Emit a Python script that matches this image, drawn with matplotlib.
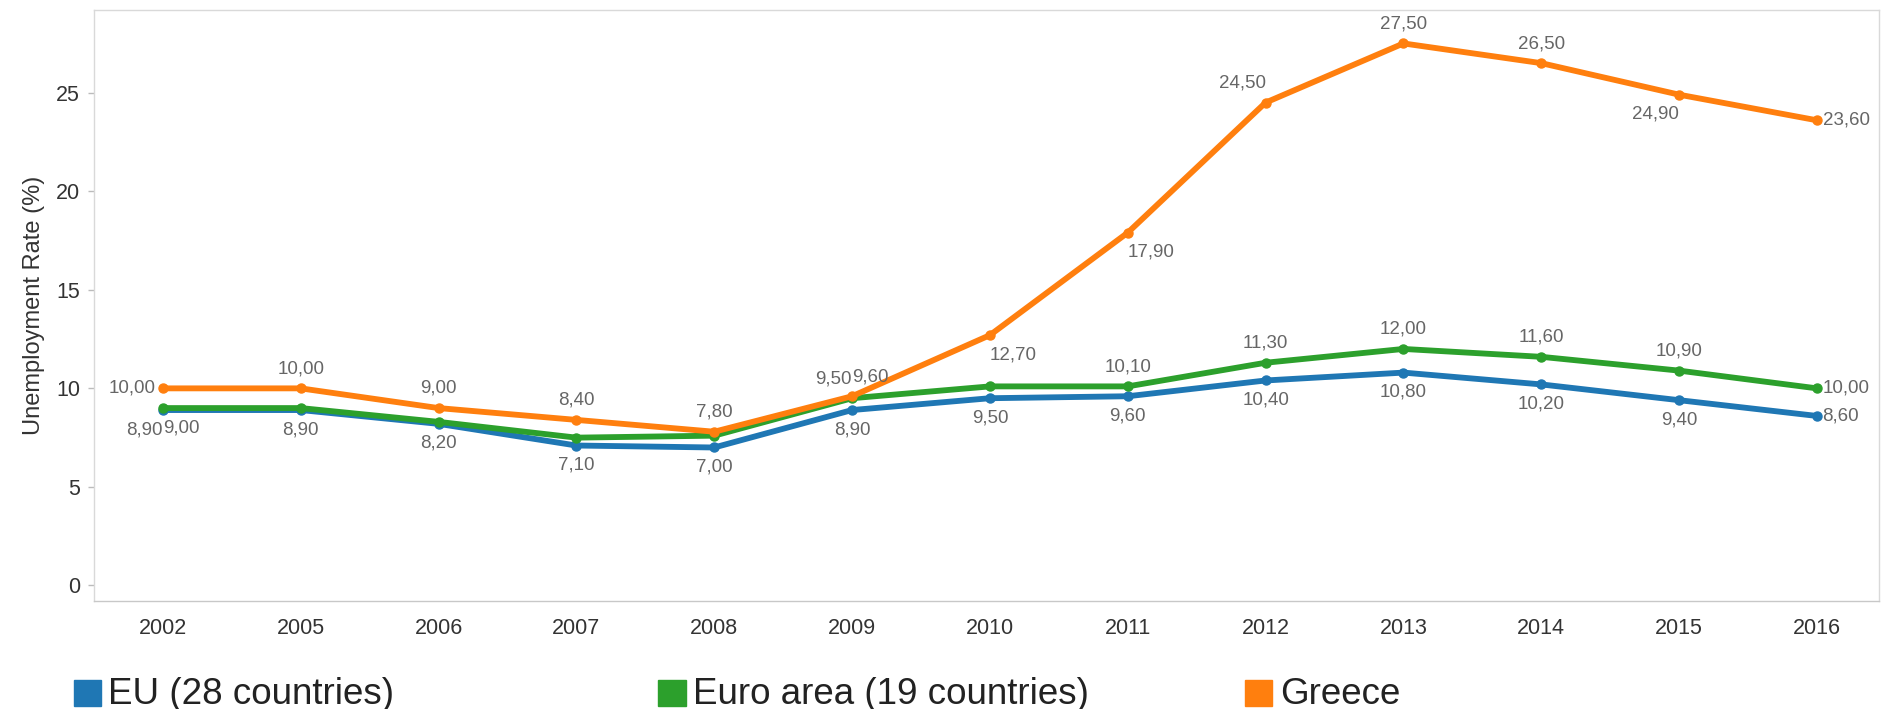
import matplotlib.pyplot as plt
from matplotlib.patches import Rectangle

plt.rcParams['font.family'] = ['Liberation Sans', 'DejaVu Sans']

# Data
years = ['2002', '2005', '2006', '2007', '2008', '2009', '2010',
         '2011', '2012', '2013', '2014', '2015', '2016']
eu28 = [8.9, 8.9, 8.2, 7.1, 7.0, 8.9, 9.5, 9.6, 10.4, 10.8, 10.2, 9.4, 8.6]
euro19 = [9.0, 9.0, 8.3, 7.5, 7.6, 9.5, 10.1, 10.1, 11.3, 12.0, 11.6, 10.9, 10.0]
greece = [10.0, 10.0, 9.0, 8.4, 7.8, 9.6, 12.7, 17.9, 24.5, 27.5, 26.5, 24.9, 23.6]
names = ['EU (28 countries)', 'Euro area (19 countries)', 'Greece']

colors = ['#1f77b4', '#2ca02c', '#ff7f0e']

# where each value label goes (None = hidden, like the original)
eu_pos = ['bl', 'b', 'b', 'b', 'b', 'b', 'b', 'b', 'b', 'b', 'b', 'b', 'r']
euro_pos = ['br', None, None, None, None, 'al', None, 'a', 'a', 'a', 'a', 'a', 'r']
gr_pos = ['l', 'a', 'a', 'a', 'a', 'ar', 'br', 'br', 'al', 'a', 'a', 'bl', 'r']

placement = {
    'a': (0, 8, 'center', 'bottom'),
    'b': (0, -8, 'center', 'top'),
    'al': (0, 8, 'right', 'bottom'),
    'ar': (0, 8, 'left', 'bottom'),
    'bl': (0, -8, 'right', 'top'),
    'br': (0, -8, 'left', 'top'),
    'l': (-5, 0, 'right', 'center'),
    'r': (4, 0, 'left', 'center'),
}

fig = plt.figure(figsize=(18.86, 7.09), dpi=100)
ax = fig.add_axes([0.0498, 0.152, 0.9465, 0.834])

x = list(range(len(years)))
series = [eu28, euro19, greece]
positions = [eu_pos, euro_pos, gr_pos]
# draw EU first, then euro area, then Greece on top
for vals, col in zip(series, colors):
    ax.plot(x, vals, color=col, linewidth=4.2, marker='o', markersize=6.5,
            solid_capstyle='round')

for vals, pos in zip(series, positions):
    for xi, v, p in zip(x, vals, pos):
        if p is None:
            continue
        dx, dy, ha, va = placement[p]
        ax.annotate(f'{v:.2f}'.replace('.', ','), (xi, v), xytext=(dx, dy),
                    textcoords='offset points', ha=ha, va=va,
                    fontsize=13.5, color='#666666')

ax.set_xlim(-0.5, 12.45)
ax.set_ylim(-0.8, 29.2)
ax.set_xticks(x)
ax.set_xticklabels(years)
ax.set_yticks([0, 5, 10, 15, 20, 25])
ax.tick_params(axis='x', length=0, pad=12, labelsize=15.5, colors='#333333')
ax.tick_params(axis='y', length=4, width=1, color='#bbbbbb', pad=6,
               labelsize=15.5, labelcolor='#333333')
for s in ax.spines.values():
    s.set_color('#d9d9d9')
    s.set_linewidth(1)
ax.spines['bottom'].set_color('#c8c8c8')
ax.set_ylabel('Unemployment Rate (%)', fontsize=17, color='#333333', labelpad=8)

# legend with square swatches
leg_x = [0.039, 0.349, 0.660]
for lx, col, name in zip(leg_x, colors, names):
    fig.patches.append(Rectangle((lx, 0.004), 0.0145, 0.037, color=col,
                                 transform=fig.transFigure, figure=fig))
    fig.text(lx + 0.0185, 0.021, name, fontsize=26.5, color='#222222',
             va='center', ha='left')

fig.savefig('out.png', dpi=100, facecolor='white')
